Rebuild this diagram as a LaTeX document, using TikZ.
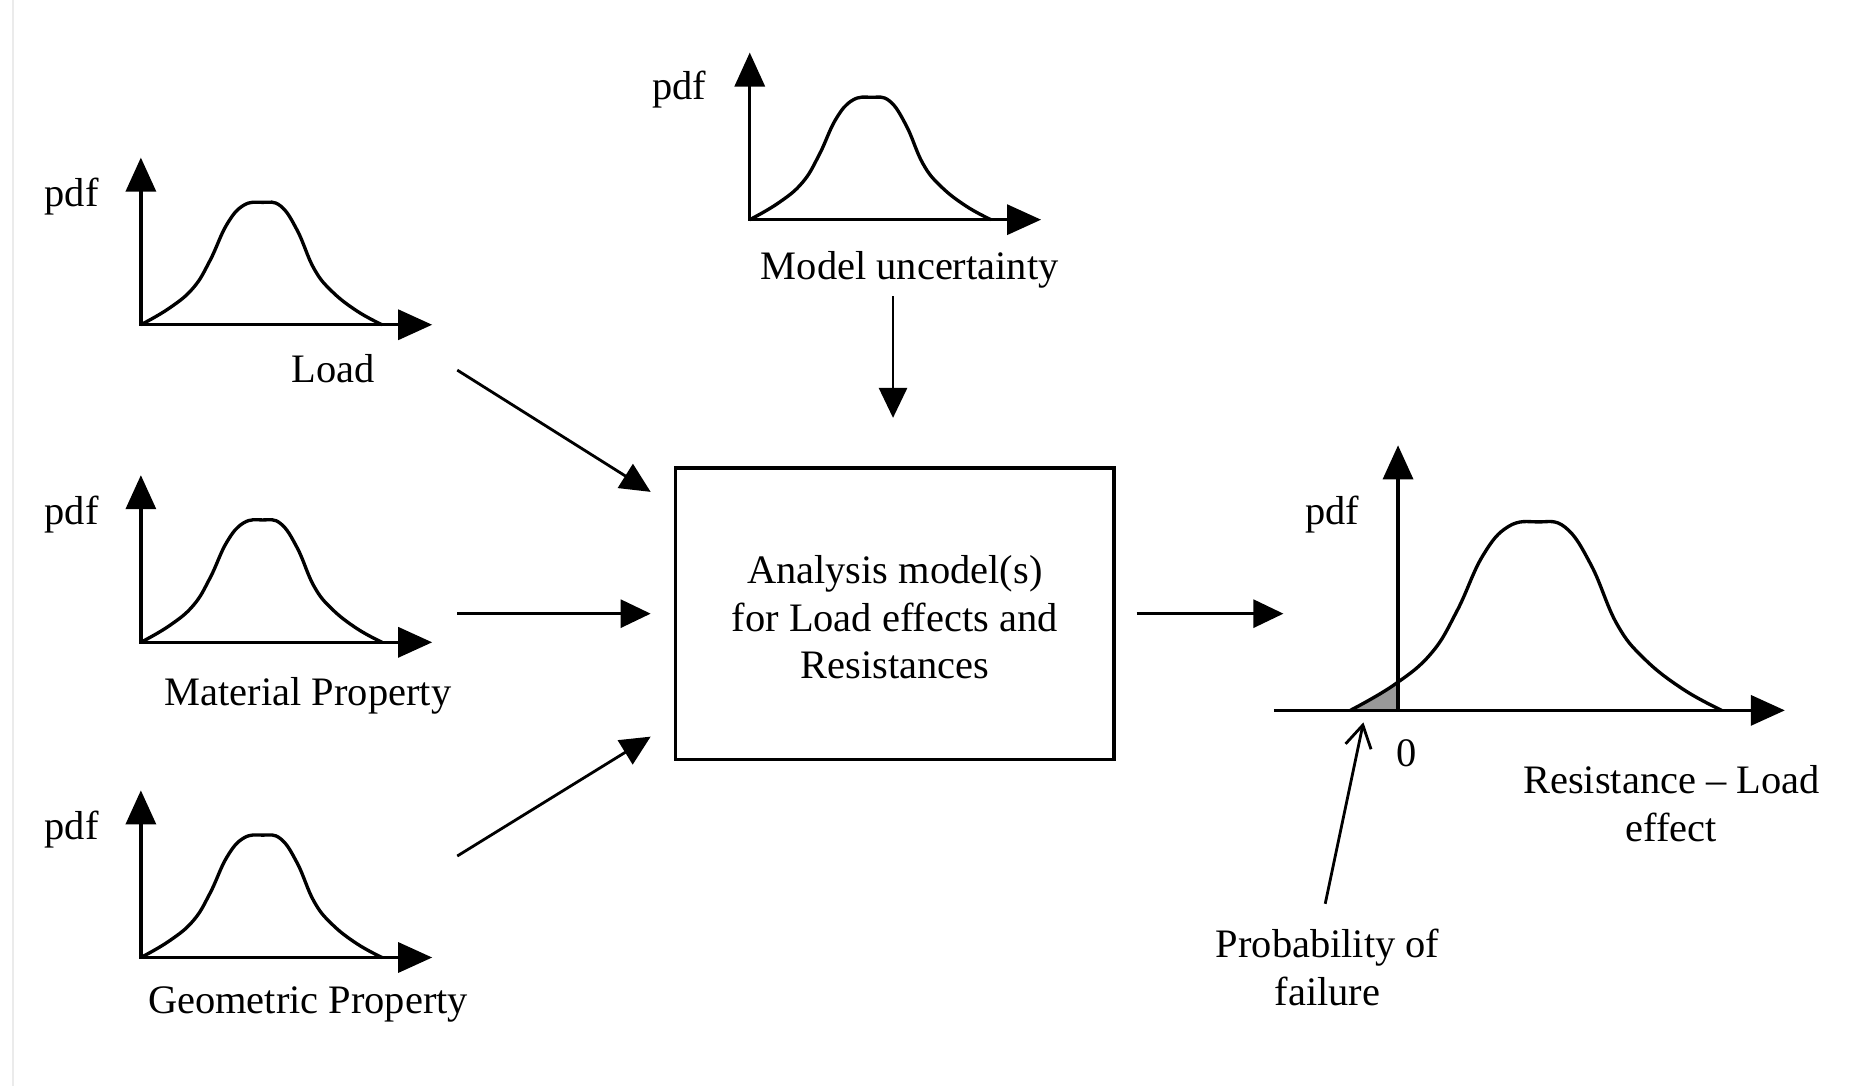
\documentclass[tikz,border=0pt]{standalone}
\usepackage{fontspec}
\setmainfont{Liberation Serif}
\usetikzlibrary{arrows.meta,calc}
\tikzset{axistip/.tip={Triangle[length=3.4mm,width=3.0mm]}}
\begin{document}
\begin{tikzpicture}[x=0.01194cm,y=-0.01194cm,
  axisline/.style={line width=0.95pt},
  bellcurve/.style={line width=0.95pt},
  conn/.style={line width=0.8pt,-{Triangle[length=3mm,width=2.8mm]}},
  lbl/.style={font=\fontsize{11.5}{13.6}\selectfont, inner sep=0pt, align=center}]
\useasboundingbox (0,0) rectangle (1568,910);
\fill[white] (0,0) rectangle (1568,910);
\draw[black!8, line width=0.6pt] (11,0) -- (11,910);

\newcommand\bellpts{(0,0) (24,-14) (44,-31) (58,-54) (72,-84) (86,-100) (102,-102.5) (117,-99.5) (131,-79) (145,-47) (160,-28) (181,-11.5) (202,0)}

% ---- small plots ----
\foreach \ox/\oy/\nm in {118/272/l, 118/538/m, 118/802/g, 628/184/u}{
  \coordinate (o\nm) at (\ox,\oy);
  \draw[axisline,axistip-axistip] ($(o\nm)+(0,-140)$) -- (o\nm) -- ++(244,0);
  \begin{scope}[shift={(o\nm)}]
    \draw[bellcurve] plot[smooth,tension=0.7] coordinates {\bellpts};
  \end{scope}
}
\node[lbl] (pdfl) at (60,165) {pdf};
\node[lbl] (pdfm) at (60,431) {pdf};
\node[lbl] (pdfg) at (60,695) {pdf};
\node[lbl] (pdfu) at (569,75) {pdf};
\node[lbl] (loadlbl) at (279,309) {Load};
\node[lbl] (matlbl) at (258,583) {Material Property};
\node[lbl] (geolbl) at (258,841) {Geometric Property};
\node[lbl] (modlbl) at (762,226) {Model uncertainty};

% ---- box ----
\node[draw, line width=0.9pt, minimum width=4.382cm, minimum height=2.913cm] (box) at (749.5,514) {};
\node[lbl] (boxtext) at (749.5,517)
  {Analysis model(s)\\for Load effects and\\Resistances};

% ---- connectors ----
\coordinate (lout) at (383,310);  \coordinate (lin) at (545,412);
\coordinate (mout) at (383,514);  \coordinate (min) at (545,514);
\coordinate (gout) at (383,717);  \coordinate (gin) at (545,617);
\coordinate (uout) at (748,248);  \coordinate (uin) at (748,350);
\coordinate (bout) at (952,514);  \coordinate (rin) at (1075,514);
\draw[conn] (lout) -- (lin);
\draw[conn] (mout) -- (min);
\draw[conn] (gout) -- (gin);
\draw[conn] (uout) -- (uin);
\draw[conn] (bout) -- (rin);

% ---- result plot ----
\coordinate (ro) at (1171,595);
\fill[black!40] (1131,595) -- (1171,572) -- (1171,595) -- cycle;
\draw[axisline,-axistip] (ro) -- (1171,373);
\draw[axisline,-axistip] (1067,595) -- (1495,595);
\begin{scope}[shift={(1131,595)},scale=1.54]
  \draw[bellcurve] plot[smooth,tension=0.7] coordinates {\bellpts};
\end{scope}
\node[lbl] (pdfr) at (1116,431) {pdf};
\node[lbl] (zero) at (1178,631) {0};
\node[lbl] (rlbl) at (1400,673) {Resistance -- Load\\effect};
\node[lbl] (pf) at (1112,810) {Probability of\\failure};
\coordinate (pfout) at (1110,757);
\coordinate (pfin) at (1142,605);
\draw[line width=0.8pt,-{Straight Barb[length=2.2mm,width=2.6mm]}] (pfout) -- (pfin);
\end{tikzpicture}
\end{document}
